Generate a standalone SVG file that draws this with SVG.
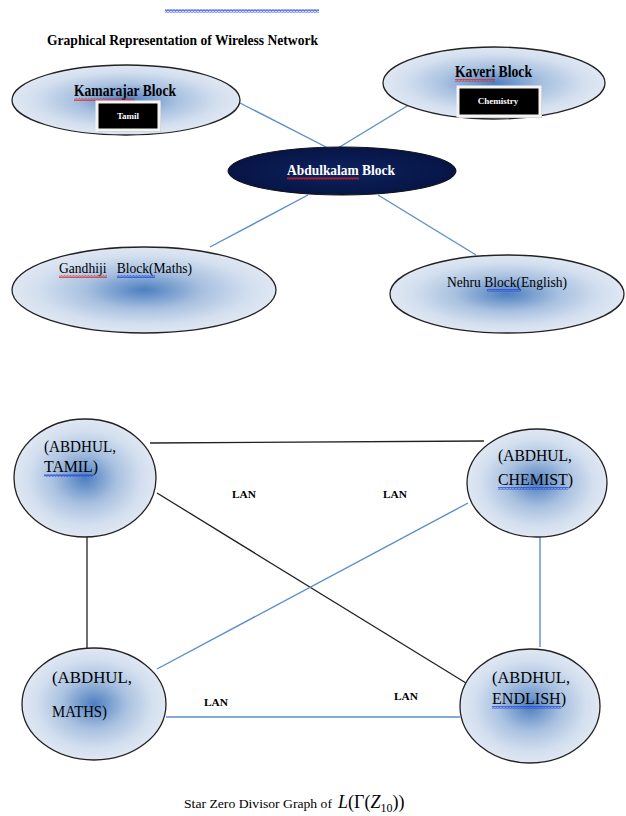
<svg xmlns="http://www.w3.org/2000/svg" width="626" height="816" viewBox="0 0 626 816" font-family="'Liberation Serif', 'DejaVu Serif', serif">
<style>
text{font-family:'Liberation Serif','Times New Roman','DejaVu Serif',serif;fill:#000}
.b{font-weight:bold}
text.w{fill:#fff}
.node{stroke:#222;stroke-width:1.3;fill:url(#rg)}
.blue{stroke:#5b8fc9;stroke-width:1.4;fill:none}
.blk{stroke:#222;stroke-width:1.3;fill:none}
.red{fill:url(#wavR)}
.bl{fill:url(#wavB)}
</style>
<defs>
<radialGradient id="rg" cx="50%" cy="50%" r="50%">
<stop offset="0" stop-color="#4d7fc0"/>
<stop offset="0.45" stop-color="#a9c1e0"/>
<stop offset="0.8" stop-color="#d3dfef"/>
<stop offset="1" stop-color="#dfe7f2"/>
</radialGradient>
<radialGradient id="dk" cx="50%" cy="50%" r="50%">
<stop offset="0" stop-color="#0d2260"/>
<stop offset="1" stop-color="#071545"/>
</radialGradient>
<pattern id="wavR" width="3" height="3" patternUnits="userSpaceOnUse">
<path d="M0 2.5 L0.75 0.5 L1.5 2.5 L2.25 0.5 L3 2.5" stroke="#e02020" stroke-width="0.7" fill="none"/>
</pattern>
<pattern id="wavB" width="3" height="3" patternUnits="userSpaceOnUse">
<path d="M0 2.5 L0.75 0.5 L1.5 2.5 L2.25 0.5 L3 2.5" stroke="#2040e0" stroke-width="0.7" fill="none"/>
</pattern>
</defs>
<rect width="626" height="816" fill="#fff"/>
<rect x="165" y="9" width="154" height="4" fill="url(#wavB)"/>
<text class="b" x="47" y="45" font-size="14" textLength="271" lengthAdjust="spacingAndGlyphs">Graphical Representation of Wireless Network</text>

<g id="connectors">
<line class="blue" x1="240" y1="103" x2="328" y2="148"/>
<line class="blue" x1="412" y1="103" x2="338" y2="148"/>
<line class="blue" x1="308" y1="195" x2="210" y2="247"/>
<line class="blue" x1="378" y1="195" x2="476" y2="255"/>
<line class="blk" x1="150" y1="443" x2="484" y2="441"/>
<line class="blk" x1="157" y1="493" x2="466" y2="683"/>
<line class="blue" x1="468" y1="503" x2="157" y2="669"/>
<line class="blk" x1="87" y1="537" x2="87" y2="649"/>
<line class="blue" x1="540" y1="537" x2="540" y2="647"/>
<line class="blue" x1="166" y1="717" x2="460" y2="717"/>
</g>

<g id="kamarajar">
<ellipse class="node" cx="126" cy="100" rx="114" ry="35"/>
<text class="b" x="74" y="96" font-size="16" textLength="102" lengthAdjust="spacingAndGlyphs">Kamarajar Block</text>
<rect x="74" y="98" width="61" height="3" class="red"/>
<rect x="98" y="103" width="63" height="29" fill="#bbb"/>
<rect x="97" y="102" width="62" height="28" fill="#000" stroke="#f4f4f4" stroke-width="3"/>
<text class="b w" x="128" y="119" font-size="9" text-anchor="middle">Tamil</text>
</g>

<g id="kaveri">
<ellipse class="node" cx="494" cy="83" rx="111" ry="36"/>
<text class="b" x="455" y="77" font-size="16" textLength="77" lengthAdjust="spacingAndGlyphs">Kaveri Block</text>
<rect x="455" y="79" width="40" height="3" class="red"/>
<rect x="459" y="88" width="83" height="30" fill="#bbb"/>
<rect x="458" y="87" width="82" height="29" fill="#000" stroke="#f4f4f4" stroke-width="3"/>
<text class="b w" x="498" y="104" font-size="9" text-anchor="middle">Chemistry</text>
</g>

<g id="abdulkalam">
<ellipse cx="342" cy="171" rx="114" ry="24" fill="url(#dk)" stroke="#111" stroke-width="1"/>
<text class="b w" x="287" y="175" font-size="15" textLength="108" lengthAdjust="spacingAndGlyphs">Abdulkalam Block</text>
<rect x="287" y="177" width="72" height="3" class="red"/>
</g>

<g id="gandhiji">
<ellipse class="node" cx="144" cy="290" rx="132" ry="43"/>
<text x="59" y="273" font-size="15" textLength="133" lengthAdjust="spacingAndGlyphs" xml:space="preserve">Gandhiji   Block(Maths)</text>
<rect x="59" y="275" width="48" height="3" class="red"/>
<rect x="117" y="275" width="38" height="3" class="bl"/>
</g>

<g id="nehru">
<ellipse class="node" cx="507" cy="294" rx="117" ry="39"/>
<text x="447" y="287" font-size="15" textLength="120" lengthAdjust="spacingAndGlyphs">Nehru Block(English)</text>
<rect x="487" y="289" width="34" height="3" class="bl"/>
</g>

<g id="tamil-node">
<ellipse class="node" cx="85" cy="478" rx="71" ry="59"/>
<text x="44" y="452" font-size="16" textLength="72" lengthAdjust="spacingAndGlyphs">(ABDHUL,</text>
<text x="44" y="472" font-size="16" textLength="54" lengthAdjust="spacingAndGlyphs">TAMIL)</text>
<rect x="44" y="474" width="49" height="3" class="bl"/>
</g>

<g id="chemist-node">
<ellipse class="node" cx="537" cy="483" rx="70" ry="54"/>
<text x="498" y="461" font-size="16" textLength="74" lengthAdjust="spacingAndGlyphs">(ABDHUL,</text>
<text x="498" y="485" font-size="16" textLength="75" lengthAdjust="spacingAndGlyphs">CHEMIST)</text>
<rect x="498" y="487" width="70" height="3" class="bl"/>
</g>

<g id="maths-node">
<ellipse class="node" cx="94" cy="704" rx="72" ry="56"/>
<text x="52" y="683" font-size="16" textLength="80" lengthAdjust="spacingAndGlyphs">(ABDHUL,</text>
<text x="52" y="717" font-size="16" textLength="55" lengthAdjust="spacingAndGlyphs">MATHS)</text>
</g>

<g id="english-node">
<ellipse class="node" cx="530" cy="706" rx="70" ry="57"/>
<text x="492" y="683" font-size="16" textLength="78" lengthAdjust="spacingAndGlyphs">(ABDHUL,</text>
<text x="492" y="704" font-size="16" textLength="74" lengthAdjust="spacingAndGlyphs">ENDLISH)</text>
<rect x="492" y="706" width="69" height="3" class="bl"/>
</g>

<g id="labels">
<text class="b" x="232" y="498" font-size="11" textLength="24" lengthAdjust="spacingAndGlyphs">LAN</text>
<text class="b" x="383" y="498" font-size="11" textLength="24" lengthAdjust="spacingAndGlyphs">LAN</text>
<text class="b" x="204" y="706" font-size="11" textLength="24" lengthAdjust="spacingAndGlyphs">LAN</text>
<text class="b" x="394" y="700" font-size="11" textLength="24" lengthAdjust="spacingAndGlyphs">LAN</text>
</g>

<text x="184" y="808" font-size="13" textLength="148" lengthAdjust="spacingAndGlyphs">Star Zero Divisor Graph of</text>
<text x="338" y="808" font-size="18"><tspan font-style="italic">L</tspan>(Γ(<tspan font-style="italic">Z</tspan><tspan font-size="12" dy="4">10</tspan><tspan dy="-4">))</tspan></text>
</svg>
